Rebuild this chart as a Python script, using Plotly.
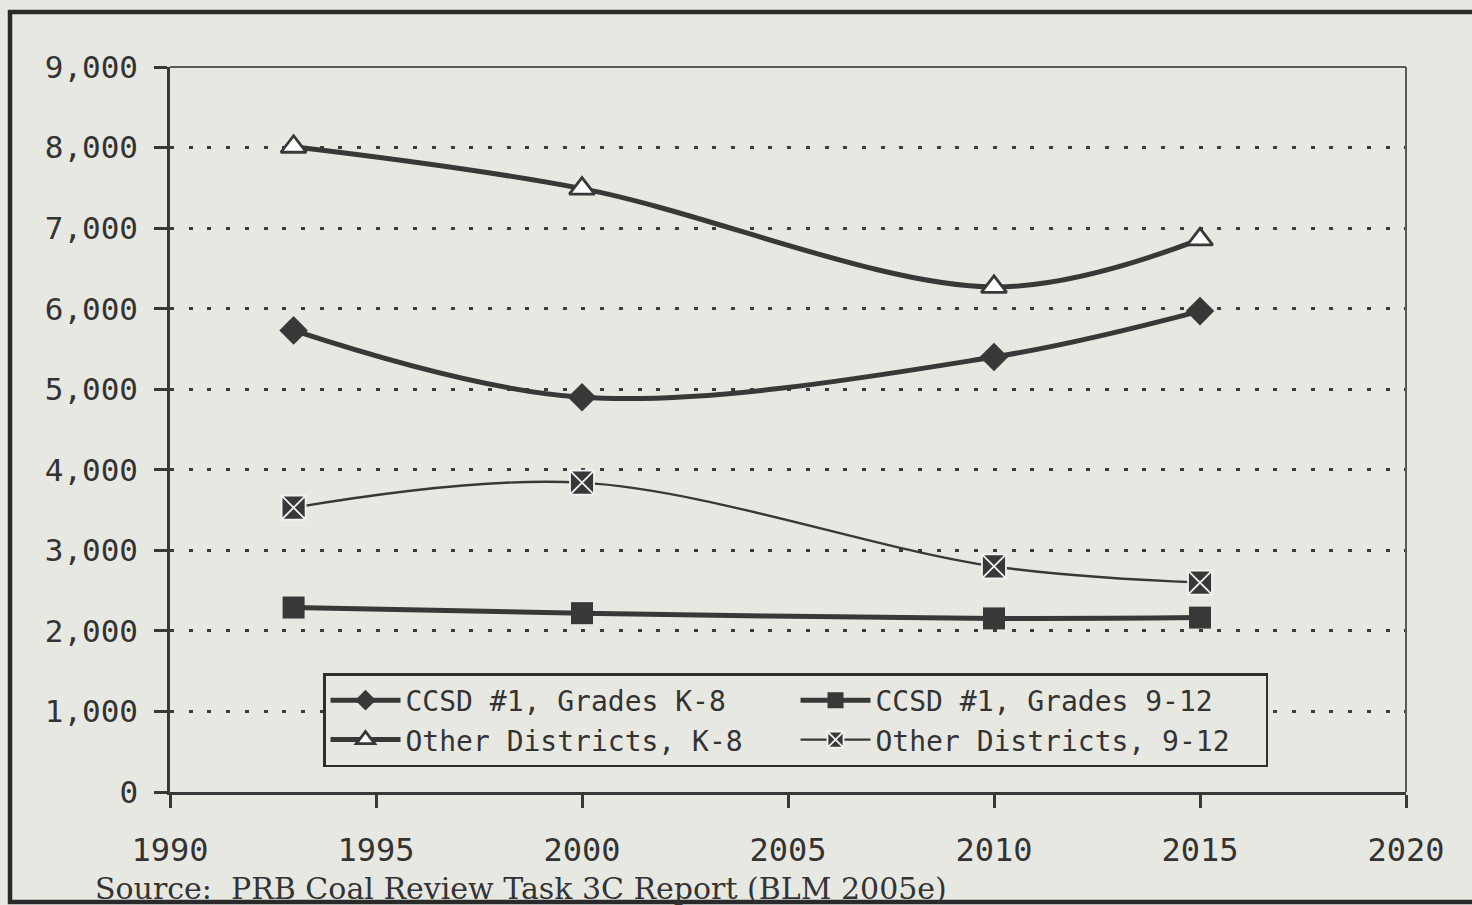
import plotly.graph_objects as go

# Enrollment projections by district and grade band
years = [1993, 2000, 2010, 2015]
ccsd_k8 = [5730, 4900, 5400, 5970]
ccsd_912 = [2290, 2220, 2155, 2165]
other_k8 = [8010, 7490, 6270, 6860]
other_912 = [3530, 3840, 2800, 2600]

series_names = [
    "CCSD #1, Grades K-8",
    "CCSD #1, Grades 9-12",
    "Other Districts, K-8",
    "Other Districts, 9-12",
]

x_ticks = [1990, 1995, 2000, 2005, 2010, 2015, 2020]
y_ticks = [0, 1000, 2000, 3000, 4000, 5000, 6000, 7000, 8000, 9000]

BG = "#e8e8e3"
INK = "#383838"
TXT = "#333333"
MONO = "DejaVu Sans Mono"

W, H = 1472, 905
ML, MR, MT, MB = 170, 66, 67, 113
PW, PH = W - ML - MR, H - MT - MB


def px_x(p):
    return (p - ML) / PW


def px_y(p):
    return (H - MB - p) / PH


fig = go.Figure()

fig.add_trace(go.Scatter(
    x=years, y=ccsd_k8, name=series_names[0], mode="lines+markers",
    line=dict(color=INK, width=5, shape="spline", smoothing=1),
    marker=dict(symbol="diamond", size=22, color=INK, line=dict(width=0)),
))
fig.add_trace(go.Scatter(
    x=years, y=ccsd_912, name=series_names[1], mode="lines+markers",
    line=dict(color=INK, width=5, shape="spline", smoothing=1),
    marker=dict(symbol="square", size=22, color=INK, line=dict(width=0)),
))
fig.add_trace(go.Scatter(
    x=years, y=other_k8, name=series_names[2], mode="lines+markers",
    line=dict(color=INK, width=5, shape="spline", smoothing=1),
    marker=dict(symbol="triangle-up", size=22, color="white",
                line=dict(color=INK, width=2.8)),
))
fig.add_trace(go.Scatter(
    x=years, y=other_912, name=series_names[3], mode="lines+markers",
    line=dict(color=INK, width=2.4, shape="spline", smoothing=1),
    marker=dict(symbol="square-x", size=24, color=INK,
                line=dict(color="#f2f2f2", width=1.8)),
))

fig.update_xaxes(
    range=[1990, 2020], tickvals=x_ticks, ticktext=[str(v) for v in x_ticks],
    showgrid=False, zeroline=False,
    showline=True, linecolor=INK, linewidth=2.5,
    ticks="outside", ticklen=13, tickwidth=2.5, tickcolor=INK,
    tickfont=dict(family=MONO, size=32, color=TXT), ticklabelstandoff=15,
)
fig.update_yaxes(
    range=[0, 9000], tickvals=y_ticks, tickformat=",d",
    showgrid=True, gridcolor="#3c3c3c", gridwidth=3, griddash="4px,14.7px",
    zeroline=False,
    showline=True, linecolor=INK, linewidth=2.5,
    ticks="outside", ticklen=13, tickwidth=2.5, tickcolor=INK,
    tickfont=dict(family=MONO, size=31, color=TXT), ticklabelstandoff=10,
)

fig.update_layout(
    width=W, height=H,
    margin=dict(l=ML, r=MR, t=MT, b=MB),
    paper_bgcolor=BG, plot_bgcolor=BG,
    showlegend=True,
    legend=dict(
        orientation="h", x=px_x(323), y=px_y(673), xanchor="left", yanchor="top",
        bgcolor=BG, bordercolor="#2e2e2e", borderwidth=2.5,
        font=dict(family=MONO, size=28, color=TXT),
        itemwidth=70,
        entrywidth=385, entrywidthmode="pixels",
    ),
    shapes=[
        # thin top and right edges of the plot area
        dict(type="line", xref="paper", yref="paper", x0=0, x1=1, y0=1, y1=1,
             line=dict(color="#5a5a5a", width=2)),
        dict(type="line", xref="paper", yref="paper", x0=1, x1=1, y0=0, y1=1,
             line=dict(color="#5a5a5a", width=2)),
        # outer frame around the whole figure
        dict(type="rect", xref="paper", yref="paper",
             x0=px_x(10), x1=px_x(1490), y0=px_y(902), y1=px_y(12),
             line=dict(color="#2a2a2a", width=4.5), layer="above"),
    ],
    annotations=[
        dict(text="Source:  PRB Coal Review Task 3C Report (BLM 2005e)",
             xref="paper", yref="paper", x=px_x(93), y=px_y(888),
             xanchor="left", yanchor="middle", showarrow=False,
             font=dict(family="DejaVu Serif", size=30, color=TXT)),
    ],
)

fig.write_html("out.html")
